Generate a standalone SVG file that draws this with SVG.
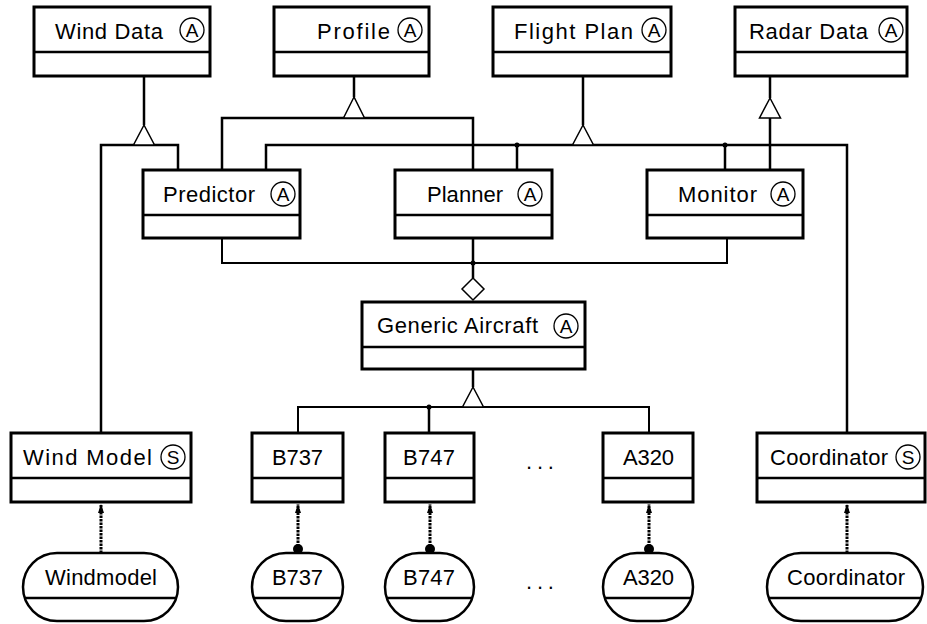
<svg xmlns="http://www.w3.org/2000/svg" width="927" height="624" viewBox="0 0 927 624">
<defs>
<style>
.box{fill:#fff;stroke:#000;stroke-width:3}
.div{stroke:#000;stroke-width:2.5}
.ln{fill:none;stroke:#000;stroke-width:2.5}
.thin{fill:none;stroke:#000;stroke-width:2}
.tri{fill:#fff;stroke:#000;stroke-width:1.5}
.oval{fill:#fff;stroke:#000;stroke-width:2.5}
.dash{fill:none;stroke:#000;stroke-width:3;stroke-dasharray:2.5 1}
.t{font-family:"Liberation Sans",Arial,sans-serif;font-size:22px;fill:#000}
.c{fill:none;stroke:#000;stroke-width:1.3}
.ca{font-family:"Liberation Sans",Arial,sans-serif;font-size:19px;fill:#000;text-anchor:middle}
.dot{fill:#000}
</style>
<marker id="ah" viewBox="0 0 9 6" refX="9" refY="3" markerWidth="9" markerHeight="6" markerUnits="userSpaceOnUse" orient="auto">
<path d="M0,0 L9,3 L0,6 Z" fill="#000"/>
</marker>
</defs>
<rect width="927" height="624" fill="#fff"/>

<g id="connectors">
<path class="ln" d="M144,76 V125"/>
<path class="ln" d="M101,433 V145 H178 V170"/>
<path class="tri" d="M144,125 L133.5,145 L154.5,145 Z"/>
<path class="ln" d="M354,76 V97"/>
<path class="ln" d="M222,170 V118 H473 V170"/>
<path class="tri" d="M354,97 L343.5,118 L364.5,118 Z"/>
<path class="ln" d="M583,76 V125"/>
<path class="ln" d="M266,170 V145 H847 V433"/>
<path class="ln" d="M517,145 V170"/>
<path class="ln" d="M725,145 V170"/>
<path class="tri" d="M583,125 L572.5,145 L593.5,145 Z"/>
<circle class="dot" cx="517" cy="145" r="2.5"/>
<circle class="dot" cx="725" cy="145" r="2.5"/>
<path class="ln" d="M770,76 V98"/>
<path class="ln" d="M770,118 V170"/>
<path class="tri" d="M770,98 L759.5,118 L780.5,118 Z"/>
<path class="thin" d="M222,238 V263 H727 V238"/>
<path class="ln" d="M473,238 V278"/>
<circle class="dot" cx="473" cy="263" r="2.5"/>
<path class="tri" d="M473,278 L484,289 L473,300 L462,289 Z"/>
<path class="ln" d="M473,369 V387"/>
<path class="thin" d="M298,433 V407 H649 V433"/>
<path class="ln" d="M429,407 V433"/>
<circle class="dot" cx="429" cy="407" r="2.5"/>
<path class="tri" d="M473,387 L462.5,407 L483.5,407 Z"/>
<path class="dash" d="M101,553 V504" marker-end="url(#ah)"/>
<path class="dash" d="M298,550 V504" marker-end="url(#ah)"/>
<path class="dash" d="M430,550 V504" marker-end="url(#ah)"/>
<path class="dash" d="M649,550 V504" marker-end="url(#ah)"/>
<path class="dash" d="M847,553 V504" marker-end="url(#ah)"/>
<circle class="dot" cx="298" cy="549" r="5"/>
<circle class="dot" cx="430" cy="549" r="5"/>
<circle class="dot" cx="649" cy="549" r="5"/>
</g>

<g id="wind-data">
<rect class="box" x="34" y="7" width="176" height="69"/>
<line class="div" x1="34" y1="52" x2="210" y2="52"/>
<text class="t" x="55" y="39" textLength="108" lengthAdjust="spacing">Wind Data</text>
<circle class="c" cx="192" cy="30" r="12"/>
<text class="ca" x="192" y="37">A</text>
</g>

<g id="profile">
<rect class="box" x="274" y="7" width="155" height="69"/>
<line class="div" x1="274" y1="52" x2="429" y2="52"/>
<text class="t" x="317" y="39" textLength="73" lengthAdjust="spacing">Profile</text>
<circle class="c" cx="410" cy="30" r="12"/>
<text class="ca" x="410" y="37">A</text>
</g>

<g id="flight-plan">
<rect class="box" x="493" y="7" width="178" height="69"/>
<line class="div" x1="493" y1="52" x2="671" y2="52"/>
<text class="t" x="514" y="39" textLength="119" lengthAdjust="spacing">Flight Plan</text>
<circle class="c" cx="654" cy="30" r="12"/>
<text class="ca" x="654" y="37">A</text>
</g>

<g id="radar-data">
<rect class="box" x="735" y="7" width="172" height="69"/>
<line class="div" x1="735" y1="52" x2="907" y2="52"/>
<text class="t" x="749" y="39" textLength="119" lengthAdjust="spacing">Radar Data</text>
<circle class="c" cx="891" cy="30" r="12"/>
<text class="ca" x="891" y="37">A</text>
</g>

<g id="predictor">
<rect class="box" x="143" y="170" width="157" height="68"/>
<line class="div" x1="143" y1="215" x2="300" y2="215"/>
<text class="t" x="163" y="202" textLength="92" lengthAdjust="spacing">Predictor</text>
<circle class="c" cx="283" cy="194" r="12"/>
<text class="ca" x="283" y="201">A</text>
</g>

<g id="planner">
<rect class="box" x="395" y="170" width="157" height="68"/>
<line class="div" x1="395" y1="215" x2="552" y2="215"/>
<text class="t" x="427" y="202" textLength="76" lengthAdjust="spacing">Planner</text>
<circle class="c" cx="530" cy="194" r="12"/>
<text class="ca" x="530" y="201">A</text>
</g>

<g id="monitor">
<rect class="box" x="647" y="170" width="156" height="68"/>
<line class="div" x1="647" y1="215" x2="803" y2="215"/>
<text class="t" x="678" y="202" textLength="79" lengthAdjust="spacing">Monitor</text>
<circle class="c" cx="783" cy="194" r="12"/>
<text class="ca" x="783" y="201">A</text>
</g>

<g id="generic-aircraft">
<rect class="box" x="362" y="302" width="223" height="67"/>
<line class="div" x1="362" y1="347" x2="585" y2="347"/>
<text class="t" x="377" y="333" textLength="161" lengthAdjust="spacing">Generic Aircraft</text>
<circle class="c" cx="566" cy="326" r="12"/>
<text class="ca" x="566" y="333">A</text>
</g>

<g id="wind-model">
<rect class="box" x="11" y="433" width="180" height="69"/>
<line class="div" x1="11" y1="478" x2="191" y2="478"/>
<text class="t" x="23" y="465" textLength="129" lengthAdjust="spacing">Wind Model</text>
<circle class="c" cx="173" cy="457" r="12"/>
<text class="ca" x="173" y="464">S</text>
</g>

<g id="b737">
<rect class="box" x="252" y="433" width="91" height="69"/>
<line class="div" x1="252" y1="478" x2="343" y2="478"/>
<text class="t" x="272" y="465" textLength="51" lengthAdjust="spacing">B737</text>
</g>

<g id="b747">
<rect class="box" x="385" y="433" width="89" height="69"/>
<line class="div" x1="385" y1="478" x2="474" y2="478"/>
<text class="t" x="403" y="465" textLength="52" lengthAdjust="spacing">B747</text>
</g>

<g id="ellipsis-classes">
<text class="t" x="526" y="469" letter-spacing="4.8">...</text>
</g>

<g id="a320">
<rect class="box" x="603" y="433" width="90" height="69"/>
<line class="div" x1="603" y1="478" x2="693" y2="478"/>
<text class="t" x="623" y="465" textLength="51" lengthAdjust="spacing">A320</text>
</g>

<g id="coordinator">
<rect class="box" x="757" y="433" width="168" height="69"/>
<line class="div" x1="757" y1="478" x2="925" y2="478"/>
<text class="t" x="770" y="465" textLength="118" lengthAdjust="spacing">Coordinator</text>
<circle class="c" cx="908" cy="457" r="12"/>
<text class="ca" x="908" y="464">S</text>
</g>

<g id="windmodel-obj">
<rect class="oval" x="23" y="553" width="155" height="68" rx="34" ry="34"/>
<line class="div" x1="24.5" y1="598" x2="176.5" y2="598"/>
<text class="t" x="45" y="585" textLength="112" lengthAdjust="spacing">Windmodel</text>
</g>

<g id="b737-obj">
<rect class="oval" x="252" y="553" width="91" height="68" rx="34" ry="34"/>
<line class="div" x1="253.5" y1="598" x2="341.5" y2="598"/>
<text class="t" x="272" y="585" textLength="51" lengthAdjust="spacing">B737</text>
</g>

<g id="b747-obj">
<rect class="oval" x="385" y="553" width="89" height="68" rx="34" ry="34"/>
<line class="div" x1="386.5" y1="598" x2="472.5" y2="598"/>
<text class="t" x="403" y="585" textLength="52" lengthAdjust="spacing">B747</text>
</g>

<g id="ellipsis-objects">
<text class="t" x="526" y="589" letter-spacing="4.8">...</text>
</g>

<g id="a320-obj">
<rect class="oval" x="603" y="553" width="90" height="68" rx="34" ry="34"/>
<line class="div" x1="604.5" y1="598" x2="691.5" y2="598"/>
<text class="t" x="623" y="585" textLength="51" lengthAdjust="spacing">A320</text>
</g>

<g id="coordinator-obj">
<rect class="oval" x="767" y="553" width="156" height="68" rx="34" ry="34"/>
<line class="div" x1="768.5" y1="598" x2="921.5" y2="598"/>
<text class="t" x="787" y="585" textLength="118" lengthAdjust="spacing">Coordinator</text>
</g>
</svg>
